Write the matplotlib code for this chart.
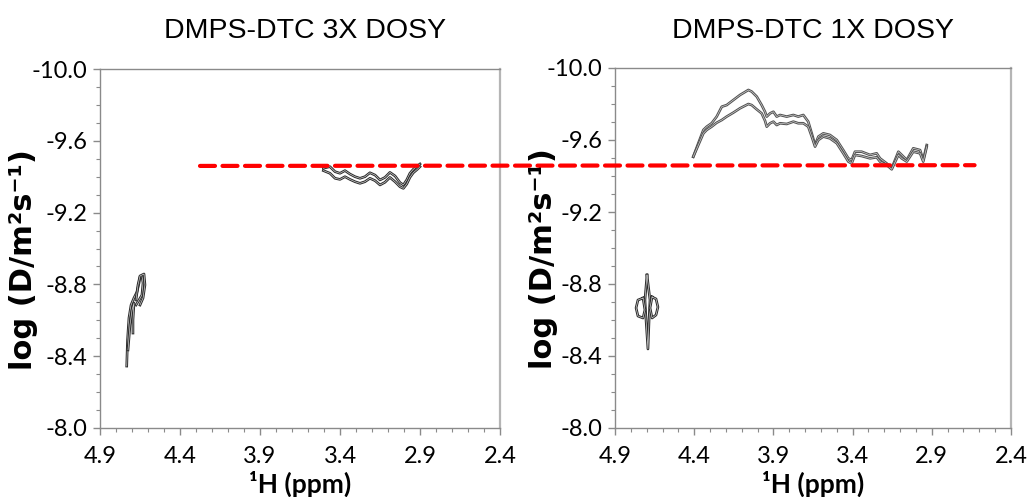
import matplotlib
matplotlib.use('Agg')
import matplotlib.pyplot as plt
from matplotlib.ticker import MultipleLocator, FormatStrFormatter
from matplotlib.patches import ConnectionPatch
import numpy as np

plt.rcParams['axes.unicode_minus'] = False

titles = ['DMPS-DTC 3X DOSY', 'DMPS-DTC 1X DOSY']
x_ticks = [4.9, 4.4, 3.9, 3.4, 2.9, 2.4]
y_ticks = [-10.0, -9.6, -9.2, -8.8, -8.4, -8.0]

# 3X sample: broad trace (upper / lower contour edges)
left_ppm = [3.504, 3.463, 3.431, 3.400, 3.369, 3.338, 3.306, 3.275, 3.244, 3.213, 3.181,
            3.150, 3.119, 3.088, 3.056, 3.025, 3.004, 2.983, 2.963, 2.942, 2.917, 2.900]
left_upper = [-9.447, -9.456, -9.428, -9.419, -9.434, -9.415, -9.400, -9.391, -9.400, -9.422, -9.409,
              -9.382, -9.396, -9.424, -9.404, -9.367, -9.354, -9.382, -9.419, -9.441, -9.460, -9.471]
left_lower = [-9.434, -9.419, -9.391, -9.385, -9.400, -9.385, -9.372, -9.363, -9.372, -9.391, -9.378,
              -9.354, -9.369, -9.396, -9.372, -9.344, -9.335, -9.359, -9.396, -9.422, -9.441, -9.456]

# 3X sample: small water-region blob
left_blob = [
    ([4.733, 4.728, 4.719, 4.706, 4.688, 4.669, 4.656, 4.650, 4.638, 4.631, 4.638, 4.656, 4.675],
     [-8.345, -8.490, -8.613, -8.685, -8.724, -8.758, -8.808, -8.841, -8.847, -8.808, -8.741, -8.713, -8.685]),
    ([4.725, 4.7125, 4.700, 4.6875, 4.694, 4.694],
     [-8.435, -8.574, -8.657, -8.696, -8.602, -8.529]),
    ([4.675, 4.6625, 4.650, 4.625, 4.619, 4.631, 4.650],
     [-8.713, -8.797, -8.847, -8.858, -8.797, -8.724, -8.685]),
]

# 1X sample: broad trace
right_ppm = [4.406, 4.374, 4.342, 4.321, 4.290, 4.258, 4.226, 4.195, 4.153, 4.111, 4.058, 4.037,
             4.005, 3.974, 3.953, 3.942, 3.921, 3.900, 3.879, 3.858, 3.816, 3.774, 3.743, 3.711,
             3.680, 3.658, 3.637, 3.616, 3.585, 3.543, 3.500, 3.459, 3.427, 3.406, 3.385, 3.343,
             3.290, 3.248, 3.227, 3.185, 3.153, 3.111, 3.090, 3.058, 3.017, 2.974, 2.954, 2.932]
right_upper = [-9.507, -9.582, -9.656, -9.674, -9.693, -9.730, -9.785, -9.794, -9.822, -9.850, -9.878, -9.869,
               -9.841, -9.794, -9.757, -9.730, -9.748, -9.757, -9.730, -9.739, -9.730, -9.739, -9.730, -9.739,
               -9.702, -9.637, -9.572, -9.619, -9.637, -9.628, -9.600, -9.544, -9.498, -9.489, -9.535, -9.535,
               -9.517, -9.526, -9.498, -9.470, -9.443, -9.535, -9.517, -9.489, -9.554, -9.544, -9.489, -9.572]
right_lower = [-9.507, -9.572, -9.637, -9.656, -9.674, -9.696, -9.711, -9.730, -9.752, -9.776, -9.800, -9.794,
               -9.770, -9.748, -9.707, -9.674, -9.693, -9.702, -9.683, -9.693, -9.689, -9.702, -9.693, -9.693,
               -9.674, -9.619, -9.563, -9.600, -9.619, -9.609, -9.582, -9.526, -9.480, -9.470, -9.517, -9.511,
               -9.498, -9.504, -9.480, -9.461, -9.437, -9.517, -9.498, -9.480, -9.535, -9.526, -9.480, -9.563]

# 1X sample: blob
right_blob = [
    ([4.698, 4.711, 4.704, 4.692, 4.685, 4.679, 4.698],
     [-8.850, -8.711, -8.600, -8.439, -8.600, -8.711, -8.850]),
    ([4.723, 4.755, 4.767, 4.755, 4.723, 4.711, 4.723],
     [-8.722, -8.711, -8.667, -8.622, -8.611, -8.656, -8.722]),
    ([4.666, 4.641, 4.629, 4.641, 4.666, 4.679, 4.666],
     [-8.728, -8.717, -8.672, -8.628, -8.611, -8.667, -8.728]),
]

ref_logd = -9.46
ref_start = 4.275   # ppm on left panel
ref_end = 2.63      # ppm on right panel

tick_font = 'Lato'
label_font = ['Lato', 'DejaVu Sans']


def contour_line(ax, x, y, dark='#2a2a2a'):
    ax.plot(x, y, color=dark, lw=1.9, solid_joinstyle='round')
    ax.plot(x, y, color='#d0d0d0', lw=0.5)


def setup_axes(ax, title, title_x, ylab_x):
    ax.set_xlim(4.9, 2.4)
    ax.set_ylim(-8.0, -10.0)
    ax.set_xticks(x_ticks)
    ax.xaxis.set_minor_locator(MultipleLocator(0.1))
    ax.set_yticks(y_ticks)
    ax.yaxis.set_minor_locator(MultipleLocator(0.1))
    ax.xaxis.set_major_formatter(FormatStrFormatter('%.1f'))
    ax.yaxis.set_major_formatter(FormatStrFormatter('%.1f'))
    for s in ax.spines.values():
        s.set_color('#8a8a8a')
        s.set_linewidth(1.0)
    ax.spines['right'].set_color('#b5b5b5')
    ax.spines['right'].set_linewidth(1.6)
    ax.tick_params(which='major', direction='out', length=5, width=1, color='#8a8a8a')
    ax.tick_params(axis='x', which='major', pad=8)
    ax.tick_params(axis='y', which='major', pad=4)
    ax.tick_params(which='minor', direction='out', length=3, width=0.8, color='#8a8a8a')
    for lab in ax.get_xticklabels() + ax.get_yticklabels():
        lab.set_fontfamily(tick_font)
        lab.set_fontsize(17)
    ax.set_xlabel('\u00b9H (ppm)', fontsize=19, fontweight='bold', family=label_font, labelpad=3)
    ax.set_ylabel('log (D/m\u00b2s\u207b\u00b9)', fontsize=22, fontweight='bold', family='DejaVu Sans')
    ax.yaxis.set_label_coords(ylab_x, 0.47)
    fig.text(title_x, 1 - 31 / 497, title, ha='center', va='center',
             fontsize=20.5, family='Liberation Sans')


fig = plt.figure(figsize=(10.27, 4.97), dpi=100)
ax1 = fig.add_axes([100 / 1027, 69 / 497, 400 / 1027, 359 / 497])
ax2 = fig.add_axes([615 / 1027, 69 / 497, 396 / 1027, 360 / 497])

contour_line(ax1, left_ppm, left_upper)
contour_line(ax1, left_ppm, left_lower)
for bx, by in left_blob:
    contour_line(ax1, bx, by)

contour_line(ax2, right_ppm, right_upper, dark='#505050')
contour_line(ax2, right_ppm, right_lower, dark='#505050')
for bx, by in right_blob:
    contour_line(ax2, bx, by)

setup_axes(ax1, titles[0], 305 / 1027, -0.155)
setup_axes(ax2, titles[1], 813 / 1027, -0.145)

con = ConnectionPatch(xyA=(ref_start, ref_logd), coordsA='data', axesA=ax1,
                      xyB=(ref_end, ref_logd), coordsB='data', axesB=ax2,
                      color='#ff0000', lw=3, linestyle=(0, (3.6, 1.8)))
fig.add_artist(con)

fig.savefig('out.png', dpi=100)
